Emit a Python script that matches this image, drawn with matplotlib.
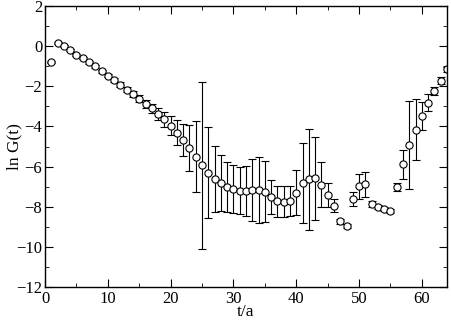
import numpy as np
import matplotlib
matplotlib.use('Agg')
import matplotlib.pyplot as plt
from matplotlib.ticker import MultipleLocator

# time slices t/a
t = np.arange(1, 65)

# ln G(t)
lnG = [-0.78, 0.16, 0.0, -0.2, -0.43, -0.6, -0.81, -1.01, -1.25, -1.46,
       -1.69, -1.91, -2.16, -2.38, -2.62, -2.86, -3.1, -3.39, -3.65, -3.97,
       -4.3, -4.68, -5.07, -5.51, -5.93, -6.3, -6.6, -6.8, -7.0, -7.12,
       -7.19, -7.2, -7.17, -7.16, -7.24, -7.5, -7.72, -7.74, -7.71, -7.29,
       -6.83, -6.63, -6.59, -6.91, -7.42, -7.94, -8.73, -8.96, -7.62, -6.99,
       -6.89, -7.87, -8.0, -8.12, -8.2, -7.01, -5.88, -4.93, -4.15, -3.47,
       -2.82, -2.24, -1.71, -1.16]

# errors
err = [0.05, 0.04, 0.04, 0.05, 0.05, 0.06, 0.06, 0.07, 0.08, 0.09,
       0.1, 0.11, 0.13, 0.15, 0.17, 0.2, 0.24, 0.3, 0.38, 0.47,
       0.6, 0.79, 1.13, 1.76, 4.15, 2.27, 1.64, 1.4, 1.25, 1.19,
       1.16, 1.25, 1.54, 1.66, 1.53, 0.85, 0.77, 0.76, 0.73, 1.12,
       2.0, 2.52, 2.09, 1.12, 0.58, 0.31, 0.12, 0.1, 0.35, 0.6,
       0.6, 0.15, 0.1, 0.1, 0.1, 0.18, 0.72, 2.18, 1.5, 0.7,
       0.42, 0.2, 0.17, 0.1]

plt.rcParams['font.family'] = 'Liberation Serif'

fig = plt.figure(figsize=(4.52, 3.2), dpi=100)
ax = fig.add_axes([0.0996, 0.103, 0.8894, 0.878])

ax.errorbar(t, lnG, yerr=err, fmt='o', mfc='white', mec='black', mew=0.8,
            ms=5.2, ecolor='black', elinewidth=0.8, capsize=3, capthick=0.8)

ax.set_xlim(0, 64)
ax.set_ylim(-12, 2)
ax.xaxis.set_major_locator(MultipleLocator(10))
ax.xaxis.set_minor_locator(MultipleLocator(5))
ax.yaxis.set_major_locator(MultipleLocator(2))
ax.yaxis.set_minor_locator(MultipleLocator(1))
ax.tick_params(which='both', direction='in', top=True, right=True, labelsize=12)
ax.tick_params(axis='y', pad=2)
ax.tick_params(axis='x', pad=3)
ax.tick_params(which='major', length=6)
ax.tick_params(which='minor', length=3)
for s in ax.spines.values():
    s.set_linewidth(1.0)

ax.set_xlabel('t/a', fontsize=12.5, va='center')
ax.set_ylabel('ln G(t)', fontsize=12.5, va='center')
ax.xaxis.set_label_coords(0.5, -0.09)
ax.yaxis.set_label_coords(-0.077, 0.5)

fig.savefig('out.png', dpi=100)
